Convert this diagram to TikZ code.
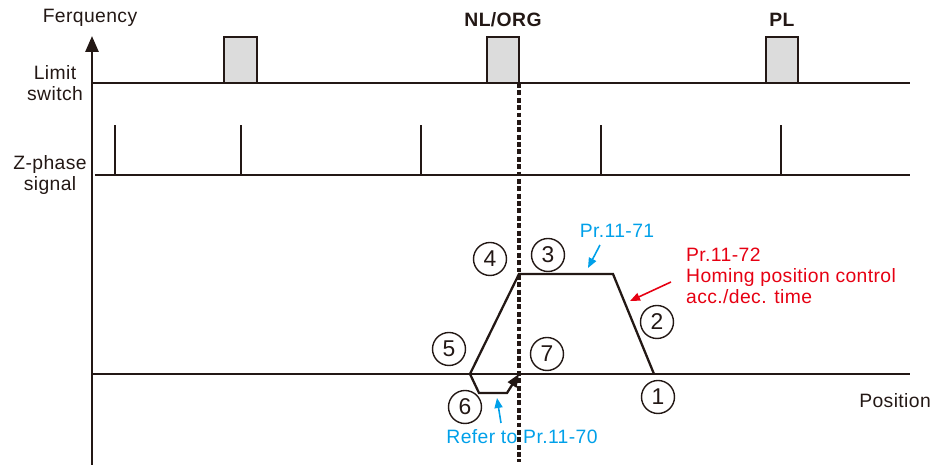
\documentclass[tikz,border=0pt]{standalone}
\usepackage{fontspec}
\setmainfont{Liberation Sans}[LetterSpace=2]
\usepackage{xcolor}
\usepackage{tikz}
\definecolor{homeInk}{HTML}{231815}
\definecolor{homeGrey}{HTML}{DCDCDC}
\definecolor{homeBlue}{HTML}{00A0E9}
\definecolor{homeRed}{HTML}{E60012}
\usetikzlibrary{arrows.meta}

\begin{document}
\begin{tikzpicture}[
  font=\fontsize{11}{11.6}\selectfont,
  signal/.style={homeInk, line width=1.3pt},
  switchbox/.style={draw=homeInk, line width=1.2pt, fill=homeGrey},
  stepno/.style={circle, draw=homeInk, line width=0.8pt, minimum size=0.66cm, inner sep=0pt, font=\fontsize{13}{13}\selectfont, text=homeInk},
  callout/.style={line width=0.9pt, -{Triangle[length=0.2cm, width=0.16cm]}},
  lbl/.style={align=center, text=homeInk}
]
\useasboundingbox (-1.84,-1.82) rectangle (16.88,7.48);

% Axes
\coordinate (origin) at (0,0);
\coordinate (ytop) at (0,6.76);
\coordinate (ybot) at (0,-1.82);
\coordinate (xend) at (16.36,0);
\draw[homeInk, line width=1.6pt, -{Triangle[length=0.32cm, width=0.26cm]}] (ybot) -- (ytop);
\draw[signal] (origin) -- (xend);
\node[lbl] (freq) at (-0.04,7.12) {Ferquency};
\node[lbl, anchor=east] (pos) at (16.90,-0.54) {Position};

% Limit switch row
\coordinate (lsA) at (0,5.82);
\coordinate (lsB) at (16.36,5.82);
\draw[signal] (lsA) -- (lsB);
\node[lbl] (lslabel) at (-0.74,5.82) {Limit\\switch};
\draw[switchbox] (2.64,5.82) rectangle (3.30,6.74);
\draw[switchbox] (7.90,5.82) rectangle (8.54,6.74);
\draw[switchbox] (13.48,5.82) rectangle (14.12,6.74);
\node[lbl, font=\fontsize{11}{12}\bfseries] (nlorg) at (8.22,7.08) {NL/ORG};
\node[lbl, font=\fontsize{11}{12}\bfseries] (pl) at (13.80,7.08) {PL};

% Z-phase row
\coordinate (zA) at (0.06,3.98);
\coordinate (zB) at (16.36,3.98);
\draw[signal] (zA) -- (zB);
\node[lbl] (zlabel) at (-0.84,3.98) {Z-phase\\signal};
\foreach \px in {0.46,2.98,6.58,10.18,13.78}
  \draw[signal] (\px,3.98) -- (\px,4.98);

% Origin marker
\coordinate (orgtop) at (8.54,5.82);
\coordinate (orgbot) at (8.54,-1.76);
\draw[homeInk, line width=1.8pt, dash pattern=on 2.8pt off 1.4pt] (orgtop) -- (orgbot);

% Homing speed profile
\coordinate (p1) at (11.24,0);
\coordinate (p2) at (10.42,2.0);
\coordinate (p3) at (8.54,2.0);
\coordinate (p5) at (7.56,0);
\coordinate (p6a) at (7.74,-0.38);
\coordinate (p6b) at (8.30,-0.38);
\coordinate (p7) at (8.54,0);
\draw[signal, line join=miter] (p1) -- (p2) -- (p3) -- (p5);
\draw[signal, -{Triangle[length=0.26cm, width=0.2cm]}] (p5) -- (p6a) -- (p6b) -- (p7);

% Step numbers
\node[stepno] (s1) at (11.32,-0.46) {1};
\node[stepno] (s2) at (11.30,1.04) {2};
\node[stepno] (s3) at (9.12,2.38) {3};
\node[stepno] (s4) at (7.96,2.30) {4};
\node[stepno] (s5) at (7.14,0.50) {5};
\node[stepno] (s6) at (7.46,-0.66) {6};
\node[stepno] (s7) at (9.10,0.40) {7};

% Parameter notes
\node[lbl, text=homeBlue] (pr71) at (10.50,2.86) {Pr.11-71};
\coordinate (pr71tip) at (9.92,2.12);
\draw[callout, homeBlue] (10.16,2.58) -- (pr71tip);
\node[anchor=west, align=left, text=homeRed, font=\fontsize{11}{11.8}\selectfont] (pr72) at (11.76,1.96) {Pr.11-72\\Homing position control\\acc./dec. time};
\coordinate (pr72tip) at (10.76,1.46);
\draw[callout, homeRed] (11.58,1.84) -- (pr72tip);
\node[lbl, text=homeBlue] (pr70) at (8.60,-1.26) {Refer to Pr.11-70};
\coordinate (pr70tip) at (8.10,-0.48);
\draw[callout, homeBlue] (8.18,-0.98) -- (pr70tip);

\end{tikzpicture}
\end{document}
